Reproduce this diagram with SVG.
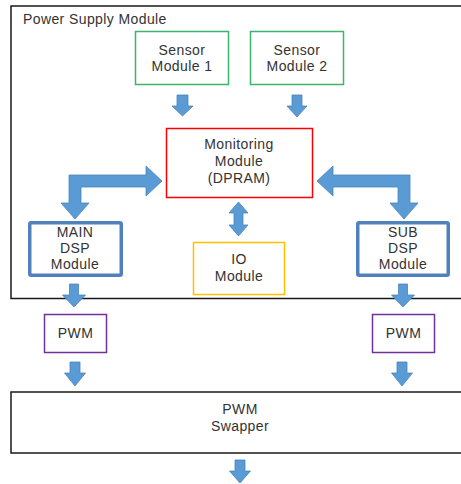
<svg xmlns="http://www.w3.org/2000/svg" width="461" height="484" viewBox="0 0 461 484">
<style>
text{font-family:"Liberation Sans","Noto Sans",sans-serif;font-size:14px;letter-spacing:0.4px;fill:#333;text-anchor:middle}
.frame{fill:none;stroke:#1a1a1a;stroke-width:1.5}
.sensor{fill:#fff;stroke:#3cb46e;stroke-width:1.5}
.mon{fill:#fff;stroke:#ff0000;stroke-width:1.5}
.io{fill:#fff;stroke:#ffc000;stroke-width:1.5}
.dsp{fill:#fff;stroke:#4f81bd;stroke-width:3.5}
.pwm{fill:#fff;stroke:#7030a0;stroke-width:1.5}
.arr{fill:#5b9bd5;stroke:#4a84bb;stroke-width:0.8}
</style>
<rect width="461" height="484" fill="#fff"/>
<g id="power-supply-module">
<rect class="frame" x="11" y="6" width="460" height="292.5"/>
<text x="23" y="24" style="text-anchor:start">Power Supply Module</text>
</g>
<g id="sensor1">
<rect class="sensor" x="135.5" y="31.5" width="93" height="53"/>
<text x="182" y="55">Sensor</text>
<text x="182" y="71">Module 1</text>
</g>
<g id="sensor2">
<rect class="sensor" x="250.5" y="31.5" width="93" height="53"/>
<text x="297" y="55">Sensor</text>
<text x="297" y="71">Module 2</text>
</g>
<g id="monitoring">
<rect class="mon" x="166.5" y="128.5" width="146" height="69"/>
<text x="239" y="149">Monitoring</text>
<text x="239" y="166">Module</text>
<text x="239" y="183">(DPRAM)</text>
</g>
<g id="io">
<rect class="io" x="193.5" y="242.5" width="91" height="52"/>
<text x="239" y="264">IO</text>
<text x="239" y="281">Module</text>
</g>
<g id="main-dsp">
<rect class="dsp" x="29.75" y="222.75" width="91.5" height="52.5" rx="1.5"/>
<text x="75" y="237">MAIN</text>
<text x="75" y="253">DSP</text>
<text x="75" y="269">Module</text>
</g>
<g id="sub-dsp">
<rect class="dsp" x="357.75" y="222.75" width="90.5" height="52.5" rx="1.5"/>
<text x="403" y="237">SUB</text>
<text x="403" y="253">DSP</text>
<text x="403" y="269">Module</text>
</g>
<g id="pwm-left">
<rect class="pwm" x="44.5" y="314.5" width="62" height="38"/>
<text x="75.5" y="338">PWM</text>
</g>
<g id="pwm-right">
<rect class="pwm" x="372.5" y="314.5" width="62" height="38"/>
<text x="403.5" y="338">PWM</text>
</g>
<g id="pwm-swapper">
<rect class="frame" x="11" y="392" width="460" height="61"/>
<text x="240" y="414">PWM</text>
<text x="240" y="431">Swapper</text>
</g>
<g id="connectors">
<path class="arr" d="M177,95 H188 V106 H193 L182.5,116 L172,106 H177 Z"/>
<path class="arr" d="M292,95 H302 V106 H307 L297,117 L287,106 H292 Z"/>
<path class="arr" d="M162,181 L146,166 V175 H69 V203 H61 L75,219 L89,203 H81 V187 H146 V196 Z"/>
<path class="arr" d="M317,181 L333,166 V175 H410 V203 H418 L404,219 L390,203 H398 V187 H333 V196 Z"/>
<path class="arr" d="M238.5,202 L248,213 H243 V225 H248 L238.5,236 L229,225 H234 V213 H229 Z"/>
<path class="arr" d="M69.5,284 H78.5 V295 H85.5 L74,307 L62.5,295 H69.5 Z"/>
<path class="arr" d="M398.5,284 H407.5 V295 H414.5 L403,307 L391.5,295 H398.5 Z"/>
<path class="arr" d="M70,362 H80 V373 H85.5 L75,386 L64.5,373 H70 Z"/>
<path class="arr" d="M397,362 H407 V373 H412.5 L402,386 L391.5,373 H397 Z"/>
<path class="arr" d="M235,460 H245 V471 H250.5 L240,483 L229.5,471 H235 Z"/>
</g>
</svg>
